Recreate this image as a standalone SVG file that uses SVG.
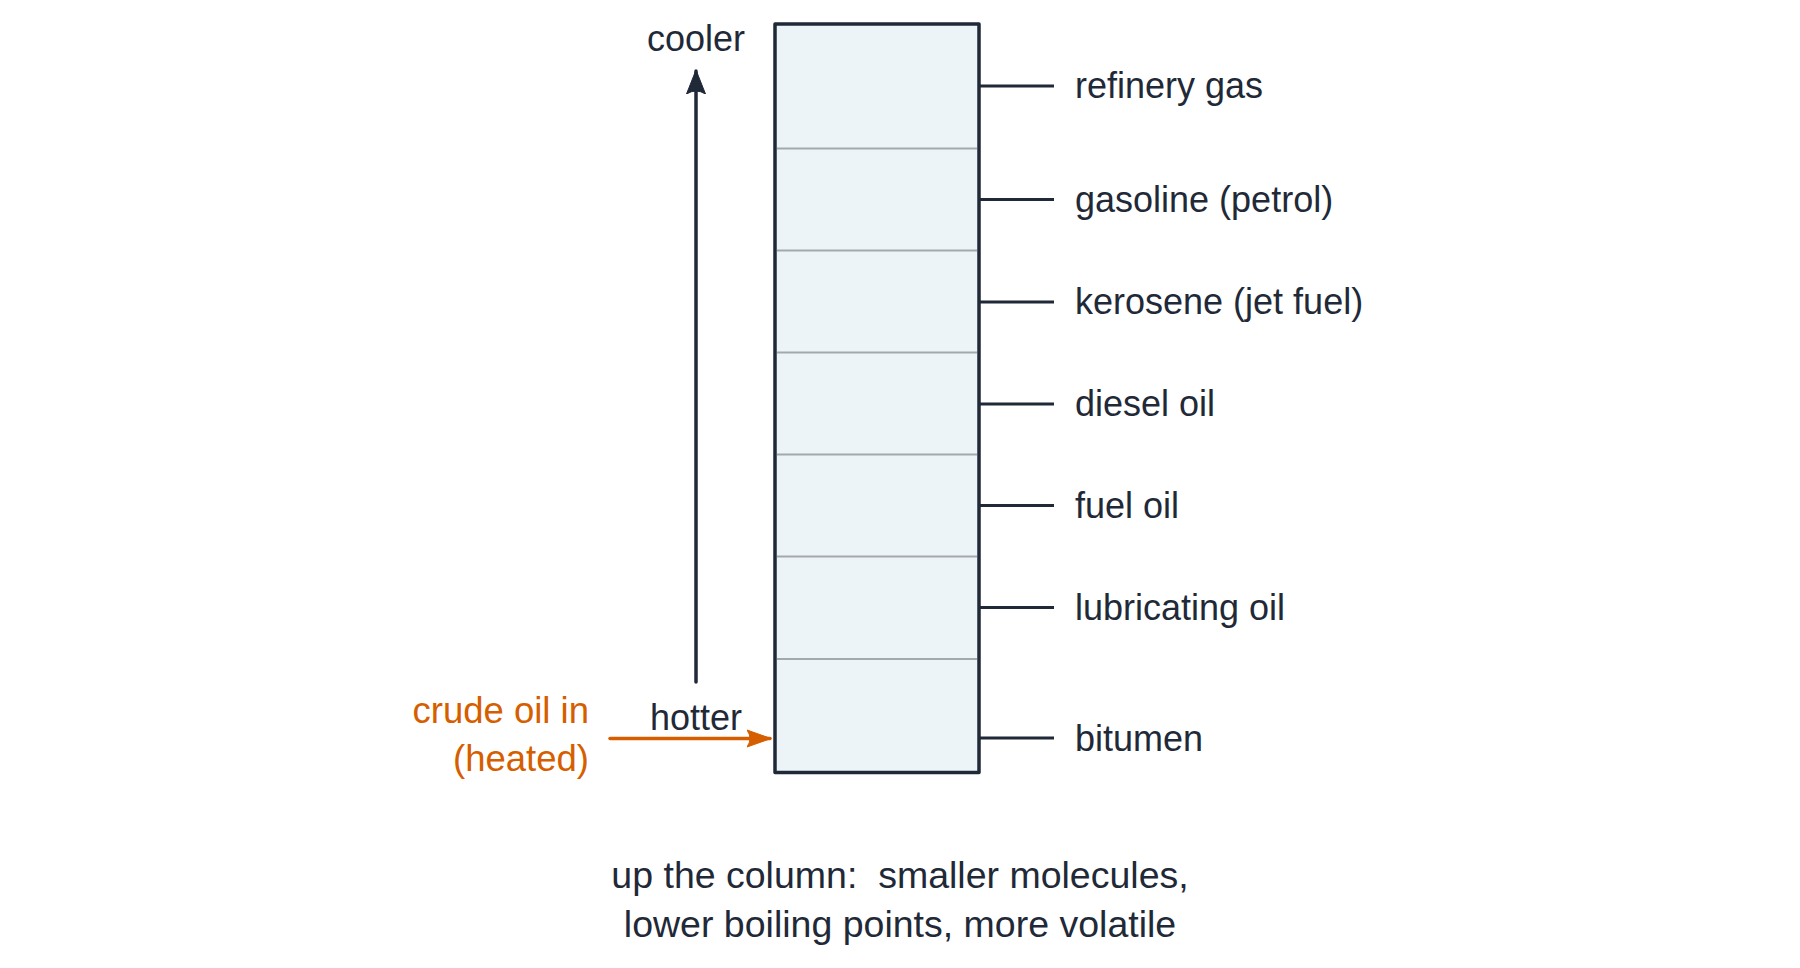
<svg xmlns="http://www.w3.org/2000/svg" width="1800" height="968" viewBox="0 0 1800 968">
<style>
text{font-family:"Liberation Sans",Arial,sans-serif;font-size:36px;fill:#1f2937}
.lab{text-anchor:start}
.mid{text-anchor:middle}
.cap{font-size:37.5px}
.org{fill:#d55e00;text-anchor:end;font-size:36.5px}
.div{stroke:#a3a8ad;stroke-width:2}
.tick{stroke:#1f2937;stroke-width:3}
</style>
<defs>
<marker id="ah" markerUnits="userSpaceOnUse" markerWidth="26" markerHeight="22" viewBox="0 0 26 22" refX="23" refY="11" orient="auto">
<path d="M0,1.5 L24,11 L0,20.5 Q6,11 0,1.5 Z" fill="#1f2937" stroke="#1f2937" stroke-width="1" stroke-linejoin="round"/>
</marker>
<marker id="aho" markerUnits="userSpaceOnUse" markerWidth="26" markerHeight="22" viewBox="0 0 26 22" refX="23" refY="11" orient="auto">
<path d="M0,2.5 L24,11 L0,19.5 Q6,11 0,2.5 Z" fill="#d55e00" stroke="#d55e00" stroke-width="1" stroke-linejoin="round"/>
</marker>
</defs>
<g id="column">
<rect x="775" y="24" width="204" height="748.5" fill="#ecf4f8" stroke="none"/>
<line class="div" x1="777" y1="148.5" x2="977" y2="148.5"/>
<line class="div" x1="777" y1="250.5" x2="977" y2="250.5"/>
<line class="div" x1="777" y1="352.5" x2="977" y2="352.5"/>
<line class="div" x1="777" y1="454.5" x2="977" y2="454.5"/>
<line class="div" x1="777" y1="556.5" x2="977" y2="556.5"/>
<line class="div" x1="777" y1="659" x2="977" y2="659"/>
<rect x="775" y="24" width="204" height="748.5" fill="none" stroke="#1f2937" stroke-width="3.5" stroke-linejoin="round"/>
</g>
<g id="connectors">
<line class="tick" x1="979" y1="86" x2="1054" y2="86"/>
<line class="tick" x1="979" y1="199.5" x2="1054" y2="199.5"/>
<line class="tick" x1="979" y1="302" x2="1054" y2="302"/>
<line class="tick" x1="979" y1="404" x2="1054" y2="404"/>
<line class="tick" x1="979" y1="505.5" x2="1054" y2="505.5"/>
<line class="tick" x1="979" y1="607.5" x2="1054" y2="607.5"/>
<line class="tick" x1="979" y1="738" x2="1054" y2="738"/>
<line x1="696" y1="682" x2="696" y2="71" stroke="#1f2937" stroke-width="3.5" stroke-linecap="round" marker-end="url(#ah)"/>
<line x1="610" y1="738.5" x2="770" y2="738.5" stroke="#d55e00" stroke-width="3.5" stroke-linecap="round" marker-end="url(#aho)"/>
</g>
<g id="label-refinery-gas"><text class="lab" x="1075" y="98">refinery gas</text></g>
<g id="label-gasoline"><text class="lab" x="1075" y="211.5">gasoline (petrol)</text></g>
<g id="label-kerosene"><text class="lab" x="1075" y="314">kerosene (jet fuel)</text></g>
<g id="label-diesel"><text class="lab" x="1075" y="416">diesel oil</text></g>
<g id="label-fuel-oil"><text class="lab" x="1075" y="517.5">fuel oil</text></g>
<g id="label-lubricating"><text class="lab" x="1075" y="619.5">lubricating oil</text></g>
<g id="label-bitumen"><text class="lab" x="1075" y="751">bitumen</text></g>
<g id="label-cooler"><text class="mid" x="696" y="51">cooler</text></g>
<g id="label-hotter"><text class="mid" x="696" y="730">hotter</text></g>
<g id="label-crude"><text class="org" x="589" y="723">crude oil in</text><text class="org" x="589" y="771">(heated)</text></g>
<g id="caption">
<text class="mid cap" x="900" y="888" xml:space="preserve">up the column:  smaller molecules,</text>
<text class="mid cap" x="900" y="937">lower boiling points, more volatile</text>
</g>
</svg>
